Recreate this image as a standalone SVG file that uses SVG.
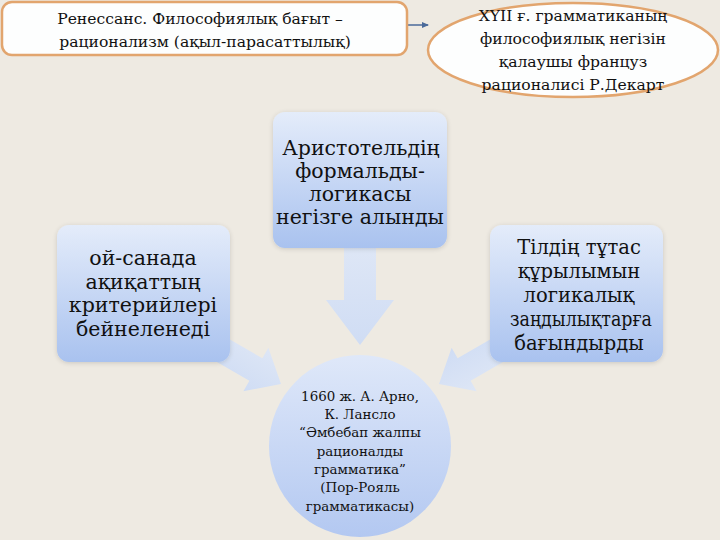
<svg xmlns="http://www.w3.org/2000/svg" width="720" height="540" viewBox="0 0 720 540">
<defs>
<linearGradient id="boxg" x1="0" y1="0" x2="0" y2="1">
<stop offset="0" stop-color="#E4ECFA"/>
<stop offset="1" stop-color="#A9C2EF"/>
</linearGradient>
<linearGradient id="circg" x1="0" y1="0" x2="0" y2="1">
<stop offset="0" stop-color="#DFE8F9"/>
<stop offset="1" stop-color="#B3C8F1"/>
</linearGradient>
<linearGradient id="arrg" x1="0" y1="0" x2="0" y2="1">
<stop offset="0" stop-color="#DCE6F8"/>
<stop offset="1" stop-color="#CCDBF6"/>
</linearGradient>
<marker id="ah" markerWidth="8" markerHeight="8" refX="6" refY="3" orient="auto" markerUnits="userSpaceOnUse">
<path d="M0,0 L7,3 L0,6 z" fill="#4A6A9A"/>
</marker>
<filter id="glow" x="-10%" y="-10%" width="120%" height="120%">
<feGaussianBlur in="SourceAlpha" stdDeviation="2.5"/>
<feOffset dx="0" dy="1"/>
<feComponentTransfer><feFuncA type="linear" slope="0.15"/></feComponentTransfer>
<feMerge><feMergeNode/><feMergeNode in="SourceGraphic"/></feMerge>
</filter>
</defs>
<style>
.t{font-family:"DejaVu Serif","Liberation Serif",serif;fill:#111;text-anchor:middle}
.s17{font-size:15.6px}
.s21{font-size:20.5px}
.s20{font-size:19.5px}
.s14{font-size:13.4px}
.box{fill:url(#boxg);filter:url(#glow)}
.arr{fill:url(#arrg);opacity:0.9}
</style>
<rect width="720" height="540" fill="#EEEAE2"/>
<g id="connectors">
<line x1="406" y1="25" x2="428" y2="25" stroke="#4A6A9A" stroke-width="1.5" marker-end="url(#ah)"/>
<polygon class="arr" points="344,248 376,248 376,300 394,300 360,345 326,300 344,300"/>
<polygon class="arr" transform="translate(281,384) rotate(30)" points="0,0 -29,25 -29,13 -75,13 -75,-13 -29,-13 -29,-25"/>
<polygon class="arr" transform="translate(439,384) rotate(150)" points="0,0 -29,25 -29,13 -75,13 -75,-13 -29,-13 -29,-25"/>
</g>
<g id="renaissance">
<rect x="2" y="2" width="405" height="53" rx="10" fill="#FDFEFE" stroke="#E2A56E" stroke-width="2.5"/>
<text class="t s17" x="200" y="24">Ренессанс. Философиялық бағыт –</text>
<text class="t s17" x="205" y="47">рационализм (ақыл-парасаттылық)</text>
</g>
<g id="descartes">
<ellipse cx="573" cy="50" rx="145" ry="47" fill="#FDFEFE" stroke="#E2A56E" stroke-width="2.5"/>
<text class="t s17" x="573" y="21">ХYII ғ. грамматиканың</text>
<text class="t s17" x="573" y="44">философиялық негізін</text>
<text class="t s17" x="573" y="67">қалаушы француз</text>
<text class="t s17" x="573" y="90">рационалисі Р.Декарт</text>
</g>
<g id="aristotle">
<rect class="box" x="273" y="112" width="174" height="136" rx="12"/>
<text class="t s21" x="361" y="155">Аристотельдің</text>
<text class="t s21" x="360" y="178">формальды-</text>
<text class="t s21" x="360" y="201">логикасы</text>
<text class="t s21" x="360" y="224">негізге алынды</text>
</g>
<g id="truth">
<rect class="box" x="57" y="225" width="173" height="137" rx="12"/>
<text class="t s21" x="143" y="265">ой-санада</text>
<text class="t s21" x="143" y="289">ақиқаттың</text>
<text class="t s21" x="143" y="312">критерийлері</text>
<text class="t s21" x="143" y="336">бейнеленеді</text>
</g>
<g id="language">
<rect class="box" x="490" y="225" width="173" height="137" rx="12"/>
<text class="t s20" x="579" y="254">Тілдің тұтас</text>
<text class="t s20" x="579" y="278">құрылымын</text>
<text class="t s20" x="579" y="302">логикалық</text>
<text class="t s20" x="581" y="326" textLength="142" lengthAdjust="spacingAndGlyphs">заңдылықтарға</text>
<text class="t s20" x="579" y="350">бағындырды</text>
</g>
<g id="portroyal">
<circle cx="360" cy="446" r="91" fill="url(#circg)"/>
<text class="t s14" x="360" y="401">1660 ж. А. Арно,</text>
<text class="t s14" x="360" y="419">К. Лансло</text>
<text class="t s14" x="360" y="437">“Әмбебап жалпы</text>
<text class="t s14" x="360" y="456">рационалды</text>
<text class="t s14" x="360" y="474">грамматика”</text>
<text class="t s14" x="360" y="492">(Пор-Рояль</text>
<text class="t s14" x="360" y="511">грамматикасы)</text>
</g>
</svg>
